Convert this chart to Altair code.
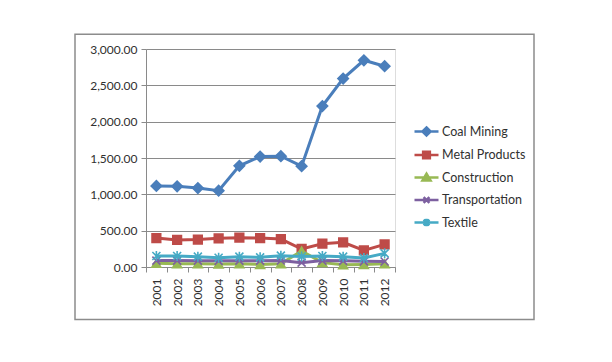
import altair as alt
import pandas as pd

years = [str(y) for y in range(2001, 2013)]
series = ["Coal Mining", "Metal Products", "Construction", "Transportation", "Textile"]
coal = [1115, 1110, 1087, 1050, 1393, 1520, 1525, 1388, 2215, 2594, 2845, 2763]
metal = [399, 372, 378, 394, 404, 399, 385, 248, 321, 339, 229, 312]
construction = [50, 45, 45, 40, 45, 35, 45, 220, 60, 30, 35, 45]
transport = [88, 88, 87, 85, 87, 87, 90, 60, 88, 85, 78, 75]
textile = [151, 151, 142, 128, 142, 133, 156, 145, 151, 142, 124, 188]
y_ticks = [0, 500, 1000, 1500, 2000, 2500, 3000]

colors = ["#4A7EBB", "#BE4B48", "#98B954", "#7D60A0", "#46AAC5"]
# legend symbols: line + marker
legend_shapes = [
    "M-1,0H1M0,-0.34L0.34,0L0,0.34L-0.34,0Z",
    "M-1,0H1M-0.28,-0.28H0.28V0.28H-0.28Z",
    "M-1,0H1M0,-0.32L0.34,0.26L-0.34,0.26Z",
    "M-1,0H1M-0.24,-0.24L0.24,0.24M-0.24,0.24L0.24,-0.24",
    "M-1,0H1M-0.24,-0.24L0.24,0.24M-0.24,0.24L0.24,-0.24M0,-0.32V0.32",
]
marker_shapes = ["diamond", "square", "triangle-up",
                 "M-1,-1L1,1M-1,1L1,-1",
                 "M-1,-1L1,1M-1,1L1,-1M0,-1.25V1.25"]
marker_sizes = [110, 75, 80, 64, 64]
marker_filled = [True, True, True, False, False]

vals = [coal, metal, construction, transport, textile]
rows = []
for s, v in zip(series, vals):
    for yr, val in zip(years, v):
        rows.append({"year": yr, "series": s, "value": val})
df = pd.DataFrame(rows)

font = "Lato"
txt = "#303030"
gridc = "#8a8a8a"

x_enc = alt.X("year:O", scale=alt.Scale(type="band", paddingInner=0, paddingOuter=0),
              axis=alt.Axis(title=None, labelAngle=270, tickBand="extent", tickSize=5,
                            tickColor=gridc, domainColor=gridc, labelFont=font,
                            labelFontSize=12, labelColor=txt, labelPadding=6, grid=False))
y_enc = alt.Y("value:Q", scale=alt.Scale(domain=[0, 3000], nice=False),
              axis=alt.Axis(title=None, values=y_ticks, format=",.2f", tickSize=5,
                            tickColor=gridc, domainColor=gridc, gridColor=gridc,
                            labelFont=font, labelFontSize=12, labelColor=txt, labelPadding=4))
fill_scale = alt.Scale(domain=series, range=colors)
shape_scale = alt.Scale(domain=series, range=legend_shapes)

base = alt.Chart(df)

frame = alt.Chart(alt.Data(values=[{"a": 1}])).mark_rect(
    fill="transparent", stroke="#8c8c8c", strokeWidth=1.5
).encode(x=alt.value(-71), x2=alt.value(388), y=alt.value(-14.7), y2=alt.value(270.5))

legend_layer = base.mark_point(size=0, filled=True, opacity=1).encode(
    fill=alt.Fill("series:N", scale=fill_scale, sort=series,
                  legend=alt.Legend(title=None, orient="none", legendX=267, legendY=69,
                                    padding=0, labelFont=font, labelFontSize=12.5,
                                    labelColor=txt, symbolSize=576, symbolStrokeWidth=2.5,
                                    rowPadding=0.5, labelOffset=2)),
    stroke=alt.Stroke("series:N", scale=fill_scale, sort=series),
    shape=alt.Shape("series:N", scale=shape_scale, sort=series),
)

layers = [frame, legend_layer]
for i, s in enumerate(series):
    sub = base.transform_filter(alt.datum.series == s)
    line = sub.mark_line(strokeWidth=3).encode(
        x=x_enc, y=y_enc,
        stroke=alt.Stroke("series:N", scale=fill_scale, legend=None),
    )
    pts = sub.mark_point(shape=marker_shapes[i], size=marker_sizes[i], filled=True,
                         strokeWidth=1.6, opacity=1).encode(
        x=x_enc, y=y_enc,
        fill=alt.Fill("series:N", scale=fill_scale, legend=None) if marker_filled[i] else alt.value("transparent"),
        stroke=alt.Stroke("series:N", scale=fill_scale, legend=None),
    )
    layers += [line, pts]

chart = alt.layer(*layers).properties(
    width=249, height=218,
    autosize=alt.AutoSizeParams(type="none"),
    padding={"left": 138, "top": 41, "right": 209, "bottom": 87},
).configure_view(stroke=None).configure(background="white")

chart.save("out.html", embed_options={"renderer": "svg", "actions": False})
